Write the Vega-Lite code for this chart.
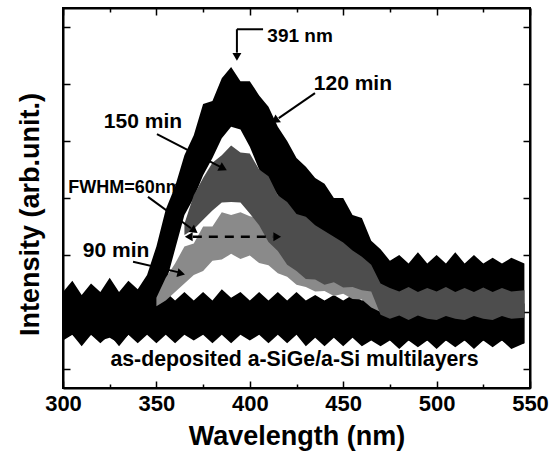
{
  "$schema": "https://vega.github.io/schema/vega-lite/v6.json",
  "width": 467,
  "height": 380,
  "autosize": "none",
  "padding": {"left": 63, "top": 8, "right": 22, "bottom": 63},
  "config": {
    "view": {"stroke": "black", "strokeWidth": 2},
    "font": "Liberation Sans",
    "axis": {"domainColor": "black", "domainWidth": 2, "tickColor": "black", "tickWidth": 1.5, "grid": false,
             "labelFont": "Liberation Sans", "labelFontWeight": "bold", "labelFontSize": 22, "labelColor": "black",
             "titleFont": "Liberation Sans", "titleFontWeight": "bold", "titleFontSize": 27, "titleColor": "black"}
  },
  "datasets": {
    "c0": [
      {"w": 300, "hi": 1.25, "lo": 0.5}, {"w": 305, "hi": 1.35, "lo": 0.6}, {"w": 310, "hi": 1.2, "lo": 0.4},
      {"w": 315, "hi": 1.35, "lo": 0.6}, {"w": 320, "hi": 1.2, "lo": 0.45}, {"w": 325, "hi": 1.35, "lo": 0.6},
      {"w": 330, "hi": 1.2, "lo": 0.4}, {"w": 335, "hi": 1.35, "lo": 0.6}, {"w": 340, "hi": 1.2, "lo": 0.45},
      {"w": 345, "hi": 1.35, "lo": 0.6}, {"w": 350, "hi": 1.2, "lo": 0.45}, {"w": 355, "hi": 1.35, "lo": 0.6},
      {"w": 360, "hi": 1.2, "lo": 0.45}, {"w": 365, "hi": 1.35, "lo": 0.6}, {"w": 370, "hi": 1.2, "lo": 0.5},
      {"w": 375, "hi": 1.35, "lo": 0.6}, {"w": 380, "hi": 1.2, "lo": 0.45}, {"w": 385, "hi": 1.4, "lo": 0.6},
      {"w": 390, "hi": 1.25, "lo": 0.45}, {"w": 395, "hi": 1.35, "lo": 0.6}, {"w": 400, "hi": 1.2, "lo": 0.5},
      {"w": 405, "hi": 1.35, "lo": 0.6}, {"w": 410, "hi": 1.2, "lo": 0.45}, {"w": 415, "hi": 1.35, "lo": 0.6},
      {"w": 420, "hi": 1.2, "lo": 0.45}, {"w": 425, "hi": 1.35, "lo": 0.6}, {"w": 430, "hi": 1.2, "lo": 0.4},
      {"w": 435, "hi": 1.3, "lo": 0.55}, {"w": 440, "hi": 1.2, "lo": 0.4}, {"w": 445, "hi": 1.3, "lo": 0.55},
      {"w": 450, "hi": 1.2, "lo": 0.4}, {"w": 455, "hi": 1.3, "lo": 0.55}, {"w": 460, "hi": 1.2, "lo": 0.4},
      {"w": 465, "hi": 1.25, "lo": 0.5}, {"w": 470, "hi": 1.2, "lo": 0.4}, {"w": 475, "hi": 1.15, "lo": 0.5},
      {"w": 480, "hi": 1.15, "lo": 0.35}, {"w": 485, "hi": 1.2, "lo": 0.5}, {"w": 490, "hi": 1.15, "lo": 0.38},
      {"w": 495, "hi": 1.15, "lo": 0.5}, {"w": 500, "hi": 1.2, "lo": 0.35}, {"w": 505, "hi": 1.15, "lo": 0.5},
      {"w": 510, "hi": 1.15, "lo": 0.38}, {"w": 515, "hi": 1.2, "lo": 0.5}, {"w": 520, "hi": 1.15, "lo": 0.35},
      {"w": 525, "hi": 1.15, "lo": 0.5}, {"w": 530, "hi": 1.2, "lo": 0.38}, {"w": 535, "hi": 1.15, "lo": 0.5},
      {"w": 540, "hi": 1.15, "lo": 0.35}, {"w": 547, "hi": 1.15, "lo": 0.45}
    ],
    "c120": [
      {"w": 300, "hi": 1.35, "lo": 0.55}, {"w": 305, "hi": 1.55, "lo": 0.6}, {"w": 310, "hi": 1.3, "lo": 0.45},
      {"w": 315, "hi": 1.5, "lo": 0.6}, {"w": 320, "hi": 1.35, "lo": 0.5}, {"w": 325, "hi": 1.6, "lo": 0.55},
      {"w": 330, "hi": 1.35, "lo": 0.45}, {"w": 335, "hi": 1.55, "lo": 0.6}, {"w": 340, "hi": 1.4, "lo": 0.55},
      {"w": 345, "hi": 1.65, "lo": 0.7}, {"w": 350, "hi": 2.15, "lo": 0.9}, {"w": 355, "hi": 2.8, "lo": 1.5},
      {"w": 360, "hi": 3.2, "lo": 2.1}, {"w": 365, "hi": 3.75, "lo": 2.7}, {"w": 370, "hi": 4.1, "lo": 3.0},
      {"w": 375, "hi": 4.65, "lo": 3.4}, {"w": 380, "hi": 4.7, "lo": 3.7}, {"w": 385, "hi": 5.1, "lo": 4.05},
      {"w": 390, "hi": 5.3, "lo": 4.25}, {"w": 395, "hi": 5.05, "lo": 4.2}, {"w": 400, "hi": 5.05, "lo": 3.9},
      {"w": 405, "hi": 4.8, "lo": 3.5}, {"w": 410, "hi": 4.6, "lo": 3.3}, {"w": 415, "hi": 4.25, "lo": 3.05},
      {"w": 420, "hi": 4.0, "lo": 2.85}, {"w": 425, "hi": 3.7, "lo": 2.7}, {"w": 430, "hi": 3.55, "lo": 2.6},
      {"w": 435, "hi": 3.35, "lo": 2.5}, {"w": 440, "hi": 3.25, "lo": 2.4}, {"w": 445, "hi": 3.0, "lo": 2.3},
      {"w": 450, "hi": 3.0, "lo": 2.15}, {"w": 455, "hi": 2.7, "lo": 2.0}, {"w": 460, "hi": 2.65, "lo": 1.9},
      {"w": 465, "hi": 2.25, "lo": 1.5}, {"w": 470, "hi": 2.1, "lo": 0.7}, {"w": 475, "hi": 1.9, "lo": 0.5},
      {"w": 480, "hi": 2.0, "lo": 0.45}, {"w": 485, "hi": 1.85, "lo": 0.5}, {"w": 490, "hi": 2.05, "lo": 0.45},
      {"w": 495, "hi": 1.85, "lo": 0.5}, {"w": 500, "hi": 2.0, "lo": 0.45}, {"w": 505, "hi": 1.85, "lo": 0.5},
      {"w": 510, "hi": 2.05, "lo": 0.45}, {"w": 515, "hi": 1.85, "lo": 0.5}, {"w": 520, "hi": 2.0, "lo": 0.4},
      {"w": 525, "hi": 1.85, "lo": 0.5}, {"w": 530, "hi": 1.95, "lo": 0.45}, {"w": 535, "hi": 1.85, "lo": 0.5},
      {"w": 540, "hi": 1.95, "lo": 0.4}, {"w": 547, "hi": 1.85, "lo": 0.45}
    ],
    "c90": [
      {"w": 350, "hi": 1.25, "lo": 1.1}, {"w": 355, "hi": 1.6, "lo": 1.2}, {"w": 360, "hi": 1.85, "lo": 1.35},
      {"w": 365, "hi": 2.15, "lo": 1.5}, {"w": 370, "hi": 2.2, "lo": 1.65}, {"w": 375, "hi": 2.5, "lo": 1.72},
      {"w": 380, "hi": 2.5, "lo": 1.9}, {"w": 385, "hi": 2.75, "lo": 1.92}, {"w": 390, "hi": 2.7, "lo": 2.02},
      {"w": 395, "hi": 2.75, "lo": 1.93}, {"w": 400, "hi": 2.68, "lo": 1.99}, {"w": 405, "hi": 2.65, "lo": 1.86},
      {"w": 410, "hi": 2.55, "lo": 1.82}, {"w": 415, "hi": 2.5, "lo": 1.68}, {"w": 420, "hi": 2.3, "lo": 1.62},
      {"w": 425, "hi": 2.2, "lo": 1.48}, {"w": 430, "hi": 1.9, "lo": 1.44}, {"w": 435, "hi": 1.9, "lo": 1.36},
      {"w": 440, "hi": 1.72, "lo": 1.37}, {"w": 445, "hi": 1.78, "lo": 1.28}, {"w": 450, "hi": 1.62, "lo": 1.32},
      {"w": 455, "hi": 1.64, "lo": 1.23}, {"w": 460, "hi": 1.52, "lo": 1.22}, {"w": 465, "hi": 1.48, "lo": 1.08},
      {"w": 470, "hi": 1.35, "lo": 1.0}, {"w": 475, "hi": 1.3, "lo": 1.0}
    ],
    "c150": [
      {"w": 365, "hi": 2.55, "lo": 2.35}, {"w": 370, "hi": 3.05, "lo": 2.45}, {"w": 375, "hi": 3.35, "lo": 2.62},
      {"w": 380, "hi": 3.62, "lo": 2.78}, {"w": 385, "hi": 3.75, "lo": 2.92}, {"w": 390, "hi": 3.92, "lo": 2.93},
      {"w": 395, "hi": 3.8, "lo": 2.92}, {"w": 400, "hi": 3.78, "lo": 2.73}, {"w": 405, "hi": 3.5, "lo": 2.52},
      {"w": 410, "hi": 3.38, "lo": 2.23}, {"w": 415, "hi": 3.05, "lo": 2.07}, {"w": 420, "hi": 2.93, "lo": 1.83},
      {"w": 425, "hi": 2.72, "lo": 1.72}, {"w": 430, "hi": 2.67, "lo": 1.58}, {"w": 435, "hi": 2.52, "lo": 1.57},
      {"w": 440, "hi": 2.42, "lo": 1.48}, {"w": 445, "hi": 2.32, "lo": 1.52}, {"w": 450, "hi": 2.22, "lo": 1.43},
      {"w": 455, "hi": 2.08, "lo": 1.44}, {"w": 460, "hi": 1.97, "lo": 1.38}, {"w": 465, "hi": 1.83, "lo": 1.36},
      {"w": 470, "hi": 1.5, "lo": 0.95}, {"w": 475, "hi": 1.42, "lo": 0.88}, {"w": 480, "hi": 1.36, "lo": 0.94},
      {"w": 485, "hi": 1.44, "lo": 0.86}, {"w": 490, "hi": 1.35, "lo": 0.94}, {"w": 495, "hi": 1.42, "lo": 0.88},
      {"w": 500, "hi": 1.36, "lo": 0.86}, {"w": 505, "hi": 1.44, "lo": 0.93}, {"w": 510, "hi": 1.35, "lo": 0.88},
      {"w": 515, "hi": 1.42, "lo": 0.86}, {"w": 520, "hi": 1.35, "lo": 0.93}, {"w": 525, "hi": 1.43, "lo": 0.88},
      {"w": 530, "hi": 1.35, "lo": 0.86}, {"w": 535, "hi": 1.42, "lo": 0.93}, {"w": 540, "hi": 1.36, "lo": 0.88},
      {"w": 547, "hi": 1.38, "lo": 0.9}
    ],
    "one": [{"k": 1}]
  },
  "resolve": {"axis": {"x": "independent", "y": "independent"}},
  "layer": [
    {
      "data": {"name": "c0"},
      "mark": {"type": "area", "color": "black", "opacity": 1},
      "encoding": {
        "x": {"field": "w", "type": "quantitative",
              "scale": {"domain": [300, 550], "nice": false, "zero": false},
              "axis": {"orient": "bottom", "title": "Wavelength (nm)",
                       "values": [300, 325, 350, 375, 400, 425, 450, 475, 500, 525, 550],
                       "labelExpr": "datum.value % 50 === 0 ? datum.label : ''",
                       "tickSize": {"condition": {"test": "datum.value % 50 === 0", "value": -7}, "value": -4},
                       "labelPadding": 12, "titlePadding": 6, "labelFlush": false, "labelOverlap": false}},
        "y": {"field": "hi", "type": "quantitative",
              "scale": {"domain": [-0.333, 6.333], "nice": false, "zero": false},
              "axis": {"orient": "left", "title": "Intensity (arb.unit.)", "values": [0, 1, 2, 3, 4, 5, 6],
                       "labels": false, "tickSize": -7, "titlePadding": 18, "titleY": 206}},
        "y2": {"field": "lo"}
      }
    },
    {
      "data": {"name": "c120"},
      "mark": {"type": "area", "color": "black", "opacity": 1},
      "encoding": {
        "x": {"field": "w", "type": "quantitative",
              "axis": {"orient": "top", "title": null, "labels": false,
                       "values": [300, 325, 350, 375, 400, 425, 450, 475, 500, 525, 550],
                       "tickSize": {"condition": {"test": "datum.value % 50 === 0", "value": -7}, "value": -4}}},
        "y": {"field": "hi", "type": "quantitative",
              "axis": {"orient": "right", "title": null, "labels": false, "values": [0, 1, 2, 3, 4, 5, 6], "tickSize": -7}},
        "y2": {"field": "lo"}
      }
    },
    {
      "data": {"name": "c90"},
      "mark": {"type": "area", "color": "#8a8a8a", "opacity": 1},
      "encoding": {
        "x": {"field": "w", "type": "quantitative", "axis": null},
        "y": {"field": "hi", "type": "quantitative", "axis": null},
        "y2": {"field": "lo"}
      }
    },
    {
      "data": {"name": "c150"},
      "mark": {"type": "area", "color": "#4d4d4d", "opacity": 1},
      "encoding": {
        "x": {"field": "w", "type": "quantitative", "axis": null},
        "y": {"field": "hi", "type": "quantitative", "axis": null},
        "y2": {"field": "lo"}
      }
    },
    {
      "data": {"name": "one"},
      "mark": {"type": "rule", "color": "black", "strokeWidth": 2},
      "encoding": {"x": {"datum": 434.9, "type": "quantitative", "axis": null}, "y": {"datum": 4.84, "type": "quantitative", "axis": null},
                   "x2": {"datum": 415.5}, "y2": {"datum": 4.4}}
    },
    {
      "data": {"name": "one"},
      "mark": {"type": "point", "shape": "triangle", "filled": true, "color": "black", "opacity": 1, "size": 90, "angle": 235},
      "encoding": {"x": {"datum": 414.0, "type": "quantitative", "axis": null}, "y": {"datum": 4.37, "type": "quantitative", "axis": null}}
    },
    {
      "data": {"name": "one"},
      "mark": {"type": "rule", "color": "black", "strokeWidth": 2},
      "encoding": {"x": {"datum": 350.3, "type": "quantitative", "axis": null}, "y": {"datum": 4.12, "type": "quantitative", "axis": null},
                   "x2": {"datum": 384.0}, "y2": {"datum": 3.55}}
    },
    {
      "data": {"name": "one"},
      "mark": {"type": "point", "shape": "triangle", "filled": true, "color": "black", "opacity": 1, "size": 90, "angle": 118},
      "encoding": {"x": {"datum": 385.1, "type": "quantitative", "axis": null}, "y": {"datum": 3.53, "type": "quantitative", "axis": null}}
    },
    {
      "data": {"name": "one"},
      "mark": {"type": "rule", "color": "black", "strokeWidth": 2},
      "encoding": {"x": {"datum": 345.5, "type": "quantitative", "axis": null}, "y": {"datum": 3.02, "type": "quantitative", "axis": null},
                   "x2": {"datum": 368.5}, "y2": {"datum": 2.47}}
    },
    {
      "data": {"name": "one"},
      "mark": {"type": "point", "shape": "triangle", "filled": true, "color": "black", "opacity": 1, "size": 80, "angle": 126},
      "encoding": {"x": {"datum": 369.8, "type": "quantitative", "axis": null}, "y": {"datum": 2.44, "type": "quantitative", "axis": null}}
    },
    {
      "data": {"name": "one"},
      "mark": {"type": "rule", "color": "black", "strokeWidth": 2},
      "encoding": {"x": {"datum": 337.5, "type": "quantitative", "axis": null}, "y": {"datum": 1.88, "type": "quantitative", "axis": null},
                   "x2": {"datum": 361.5}, "y2": {"datum": 1.7}}
    },
    {
      "data": {"name": "one"},
      "mark": {"type": "point", "shape": "triangle", "filled": true, "color": "black", "opacity": 1, "size": 80, "angle": 103},
      "encoding": {"x": {"datum": 362.6, "type": "quantitative", "axis": null}, "y": {"datum": 1.68, "type": "quantitative", "axis": null}}
    },
    {
      "data": {"name": "one"},
      "mark": {"type": "rule", "color": "black", "strokeWidth": 2},
      "encoding": {"x": {"datum": 407.1, "type": "quantitative", "axis": null}, "y": {"datum": 5.96, "type": "quantitative", "axis": null},
                   "x2": {"datum": 393.1}, "y2": {"datum": 5.96}}
    },
    {
      "data": {"name": "one"},
      "mark": {"type": "rule", "color": "black", "strokeWidth": 2},
      "encoding": {"x": {"datum": 393.1, "type": "quantitative", "axis": null}, "y": {"datum": 5.96, "type": "quantitative", "axis": null},
                   "x2": {"datum": 393.1}, "y2": {"datum": 5.55}}
    },
    {
      "data": {"name": "one"},
      "mark": {"type": "point", "shape": "triangle", "filled": true, "color": "black", "opacity": 1, "size": 80, "angle": 180},
      "encoding": {"x": {"datum": 393.1, "type": "quantitative", "axis": null}, "y": {"datum": 5.5, "type": "quantitative", "axis": null}}
    },
    {
      "data": {"name": "one"},
      "mark": {"type": "rule", "color": "black", "strokeWidth": 2.5, "strokeDash": [9, 7]},
      "encoding": {"x": {"datum": 369.5, "type": "quantitative", "axis": null}, "y": {"datum": 2.32, "type": "quantitative", "axis": null},
                   "x2": {"datum": 412.5}, "y2": {"datum": 2.32}}
    },
    {
      "data": {"name": "one"},
      "mark": {"type": "point", "shape": "triangle", "filled": true, "color": "black", "opacity": 1, "size": 80, "angle": 270},
      "encoding": {"x": {"datum": 368.0, "type": "quantitative", "axis": null}, "y": {"datum": 2.32, "type": "quantitative", "axis": null}}
    },
    {
      "data": {"name": "one"},
      "mark": {"type": "point", "shape": "triangle", "filled": true, "color": "black", "opacity": 1, "size": 80, "angle": 90},
      "encoding": {"x": {"datum": 414.0, "type": "quantitative", "axis": null}, "y": {"datum": 2.32, "type": "quantitative", "axis": null}}
    },
    {
      "data": {"name": "one"},
      "mark": {"type": "text", "text": "391 nm", "fontWeight": "bold", "fontSize": 19, "align": "center", "baseline": "middle", "color": "black"},
      "encoding": {"x": {"datum": 426.9, "type": "quantitative", "axis": null}, "y": {"datum": 5.84, "type": "quantitative", "axis": null}}
    },
    {
      "data": {"name": "one"},
      "mark": {"type": "text", "text": "120 min", "fontWeight": "bold", "fontSize": 21, "align": "center", "baseline": "middle", "color": "black"},
      "encoding": {"x": {"datum": 455.2, "type": "quantitative", "axis": null}, "y": {"datum": 5.0, "type": "quantitative", "axis": null}}
    },
    {
      "data": {"name": "one"},
      "mark": {"type": "text", "text": "150 min", "fontWeight": "bold", "fontSize": 21, "align": "center", "baseline": "middle", "color": "black"},
      "encoding": {"x": {"datum": 342.8, "type": "quantitative", "axis": null}, "y": {"datum": 4.33, "type": "quantitative", "axis": null}}
    },
    {
      "data": {"name": "one"},
      "mark": {"type": "text", "text": "FWHM=60nm", "fontWeight": "bold", "fontSize": 18, "align": "center", "baseline": "middle", "color": "black"},
      "encoding": {"x": {"datum": 333.2, "type": "quantitative", "axis": null}, "y": {"datum": 3.18, "type": "quantitative", "axis": null}}
    },
    {
      "data": {"name": "one"},
      "mark": {"type": "text", "text": "90 min", "fontWeight": "bold", "fontSize": 21, "align": "center", "baseline": "middle", "color": "black"},
      "encoding": {"x": {"datum": 328.4, "type": "quantitative", "axis": null}, "y": {"datum": 2.07, "type": "quantitative", "axis": null}}
    },
    {
      "data": {"name": "one"},
      "mark": {"type": "text", "text": "as-deposited a-SiGe/a-Si multilayers", "fontWeight": "bold", "fontSize": 21.3, "align": "center", "baseline": "middle", "color": "black"},
      "encoding": {"x": {"datum": 423.9, "type": "quantitative", "axis": null}, "y": {"datum": 0.16, "type": "quantitative", "axis": null}}
    }
  ]
}
